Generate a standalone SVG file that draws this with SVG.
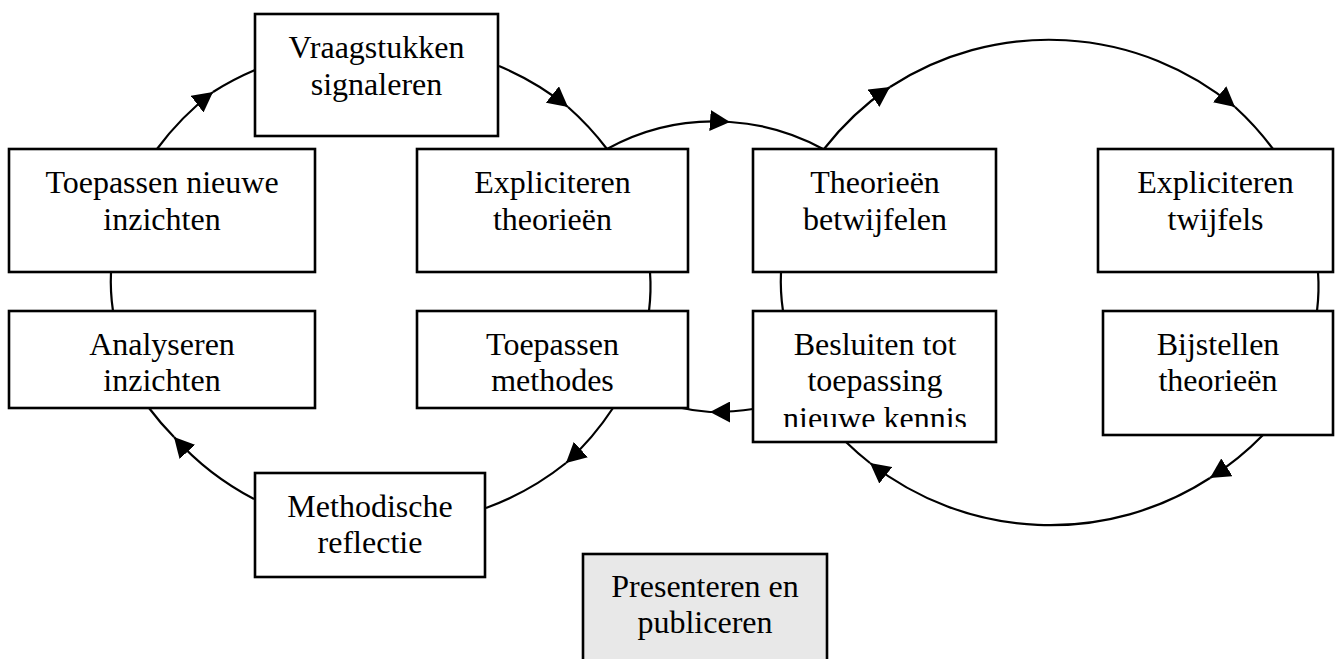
<svg xmlns="http://www.w3.org/2000/svg" width="1335" height="659" viewBox="0 0 1335 659">
<style>
.box{fill:#fff;stroke:#000;stroke-width:2.6}
.grey{fill:#e8e8e8}
.lbl{font-family:"Liberation Serif","Times New Roman",serif;font-size:32px;fill:#000;text-anchor:middle}
.c{fill:none;stroke:#000;stroke-width:2.2}
.a{marker-end:url(#ah)}
</style>
<defs>
<marker id="ah" markerUnits="userSpaceOnUse" viewBox="0 0 20 21" refX="20" refY="10.5" markerWidth="20" markerHeight="21" orient="auto">
<path d="M0,0 L20,10.5 L0,21 z" fill="#000"/>
</marker>
<clipPath id="clipB"><rect x="750" y="300" width="250" height="127"/></clipPath>
</defs>
<rect width="1335" height="659" fill="#fff"/>
<g id="connectors">
<path class="c a" d="M157,149 A284,284 0 0 1 213,92"/>
<path class="c" d="M213,92 A284,284 0 0 1 255,70"/>
<path class="c a" d="M499,66 A286,286 0 0 1 568,107"/>
<path class="c" d="M568,107 A286,286 0 0 1 607,149"/>
<path class="c" d="M650,272 A200,200 0 0 1 649,311"/>
<path class="c a" d="M613,408 A283,283 0 0 1 566,463"/>
<path class="c" d="M566,463 A283,283 0 0 1 486,508"/>
<path class="c a" d="M254,499 A283,283 0 0 1 174,437"/>
<path class="c" d="M174,437 A283,283 0 0 1 149,408"/>
<path class="c" d="M113,311 A200,200 0 0 1 111,272"/>
<path class="c a" d="M607,149 A222,222 0 0 1 730,122"/>
<path class="c" d="M730,122 A222,222 0 0 1 823,149"/>
<path class="c a" d="M824,149 A291,291 0 0 1 890,87"/>
<path class="c a" d="M890,87 A291,291 0 0 1 1235,107"/>
<path class="c" d="M1235,107 A291,291 0 0 1 1273,149"/>
<path class="c" d="M1318,272 A200,200 0 0 1 1317,311"/>
<path class="c a" d="M1263,435 A293,293 0 0 1 1210,478"/>
<path class="c a" d="M1210,478 A293,293 0 0 1 870,463"/>
<path class="c" d="M870,463 A293,293 0 0 1 846,442"/>
<path class="c" d="M783,311 A200,200 0 0 1 781,272"/>
<path class="c a" d="M753,409 Q735,412 710,412"/>
<path class="c" d="M710,412 Q694,411 677,407"/>
</g>
<g id="n-vraagstukken">
<rect class="box" x="255" y="14" width="243" height="122"/>
<text class="lbl" x="376.5" y="58">Vraagstukken</text>
<text class="lbl" x="376.5" y="95">signaleren</text>
</g>
<g id="n-toepassen-nieuwe">
<rect class="box" x="9" y="149" width="306" height="123"/>
<text class="lbl" x="162" y="193">Toepassen nieuwe</text>
<text class="lbl" x="162" y="230">inzichten</text>
</g>
<g id="n-expliciteren-theorieen">
<rect class="box" x="417" y="149" width="271" height="123"/>
<text class="lbl" x="552.5" y="193">Expliciteren</text>
<text class="lbl" x="552.5" y="230">theorieën</text>
</g>
<g id="n-analyseren">
<rect class="box" x="9" y="311" width="306" height="97"/>
<text class="lbl" x="162" y="355">Analyseren</text>
<text class="lbl" x="162" y="391">inzichten</text>
</g>
<g id="n-toepassen-methodes">
<rect class="box" x="417" y="311" width="271" height="97"/>
<text class="lbl" x="552.5" y="355">Toepassen</text>
<text class="lbl" x="552.5" y="391">methodes</text>
</g>
<g id="n-methodische">
<rect class="box" x="255" y="473" width="230" height="104"/>
<text class="lbl" x="370" y="517">Methodische</text>
<text class="lbl" x="370" y="553">reflectie</text>
</g>
<g id="n-presenteren">
<rect class="box grey" x="583" y="554" width="244" height="130"/>
<text class="lbl" x="705" y="597">Presenteren en</text>
<text class="lbl" x="705" y="633">publiceren</text>
</g>
<g id="n-theorieen-betwijfelen">
<rect class="box" x="753" y="149" width="243" height="123"/>
<text class="lbl" x="875" y="193">Theorieën</text>
<text class="lbl" x="875" y="230">betwijfelen</text>
</g>
<g id="n-expliciteren-twijfels">
<rect class="box" x="1098" y="149" width="235" height="123"/>
<text class="lbl" x="1215.5" y="193">Expliciteren</text>
<text class="lbl" x="1215.5" y="230">twijfels</text>
</g>
<g id="n-besluiten">
<rect class="box" x="753" y="311" width="243" height="131"/>
<text class="lbl" x="875" y="355">Besluiten tot</text>
<text class="lbl" x="875" y="391">toepassing</text>
<text class="lbl" x="875" y="429" clip-path="url(#clipB)">nieuwe kennis</text>
</g>
<g id="n-bijstellen">
<rect class="box" x="1103" y="311" width="230" height="124"/>
<text class="lbl" x="1218" y="355">Bijstellen</text>
<text class="lbl" x="1218" y="391">theorieën</text>
</g>
</svg>
